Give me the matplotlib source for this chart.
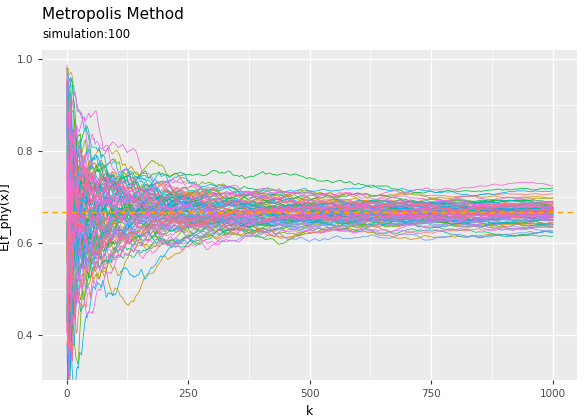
import numpy as np
import matplotlib
matplotlib.use("Agg")
import matplotlib.pyplot as plt

# Chart parameters (the data are the Metropolis simulation the chart shows)
n_sim = 100
n_iter = 1000
true_value = 2/3
x_ticks = [0, 250, 500, 750, 1000]
y_ticks = [0.4, 0.6, 0.8, 1.0]
title = "Metropolis Method"
subtitle = "simulation:100"

def hcl_to_hex(h, c=100, l=65):
    h = np.deg2rad(h)
    u, v = c*np.cos(h), c*np.sin(h)
    Xn, Yn, Zn = 95.047, 100.0, 108.883
    un = 4*Xn/(Xn+15*Yn+3*Zn); vn = 9*Yn/(Xn+15*Yn+3*Zn)
    Y = Yn*((l+16)/116)**3 if l > 8 else Yn*l/903.3
    up = u/(13*l)+un; vp = v/(13*l)+vn
    X = Y*9*up/(4*vp); Z = Y*(12-3*up-20*vp)/(4*vp)
    M = np.array([[3.2406,-1.5372,-0.4986],[-0.9689,1.8758,0.0415],[0.0557,-0.2040,1.0570]])
    rgb = M @ (np.array([X,Y,Z])/100)
    rgb = np.where(rgb<=0.0031308, 12.92*rgb, 1.055*np.clip(rgb,0,None)**(1/2.4)-0.055)
    return tuple(np.clip(rgb,0,1))

hues = np.linspace(15, 375, n_sim+1)[:-1]
colors = [hcl_to_hex(h) for h in hues]

# Metropolis sampling from p(x)=2x on [0,1], estimating E[x]=2/3
rng = np.random.default_rng(3)
k = np.arange(1, n_iter+1)
paths = []
for s in range(n_sim):
    x = rng.uniform(0.35, 1.0)
    xs = np.empty(n_iter)
    for i in range(n_iter):
        y = x + rng.normal(0, 0.45)
        if 0 < y < 1 and rng.uniform() < y/x:
            x = y
        xs[i] = x
    paths.append(np.cumsum(xs)/k)

fig, ax = plt.subplots(figsize=(5.86, 4.19), dpi=100)
fig.subplots_adjust(left=0.072, right=0.985, top=0.88, bottom=0.092)
ax.set_facecolor("#EBEBEB")
for sp in ax.spines.values():
    sp.set_visible(False)
ax.set_xlim(-50, 1050)
ax.set_ylim(0.31, 1.02)
ax.set_xticks(x_ticks)
ax.set_yticks(y_ticks)
ax.set_xticks([125, 375, 625, 875], minor=True)
ax.set_yticks([0.3, 0.5, 0.7, 0.9], minor=True)
ax.grid(True, which="major", color="white", lw=1.0)
ax.grid(True, which="minor", color="white", lw=0.5)
ax.set_axisbelow(True)
ax.tick_params(which="both", length=3, color="#333333", labelsize=7.5, labelcolor="#4D4D4D")
ax.tick_params(which="minor", length=0)
for p, c in zip(paths, colors):
    ax.plot(k, p, color=c, lw=0.55)
ax.axhline(true_value, color="orange", ls=(0, (4, 3)), lw=1.0, zorder=5)
ax.set_xlabel("k", fontsize=9)
ax.set_ylabel("E[f_phy(x)]", fontsize=9)
fig.text(0.072, 0.955, title, fontsize=11)
fig.text(0.072, 0.91, subtitle, fontsize=8.5)
fig.savefig("out.png", dpi=100)
